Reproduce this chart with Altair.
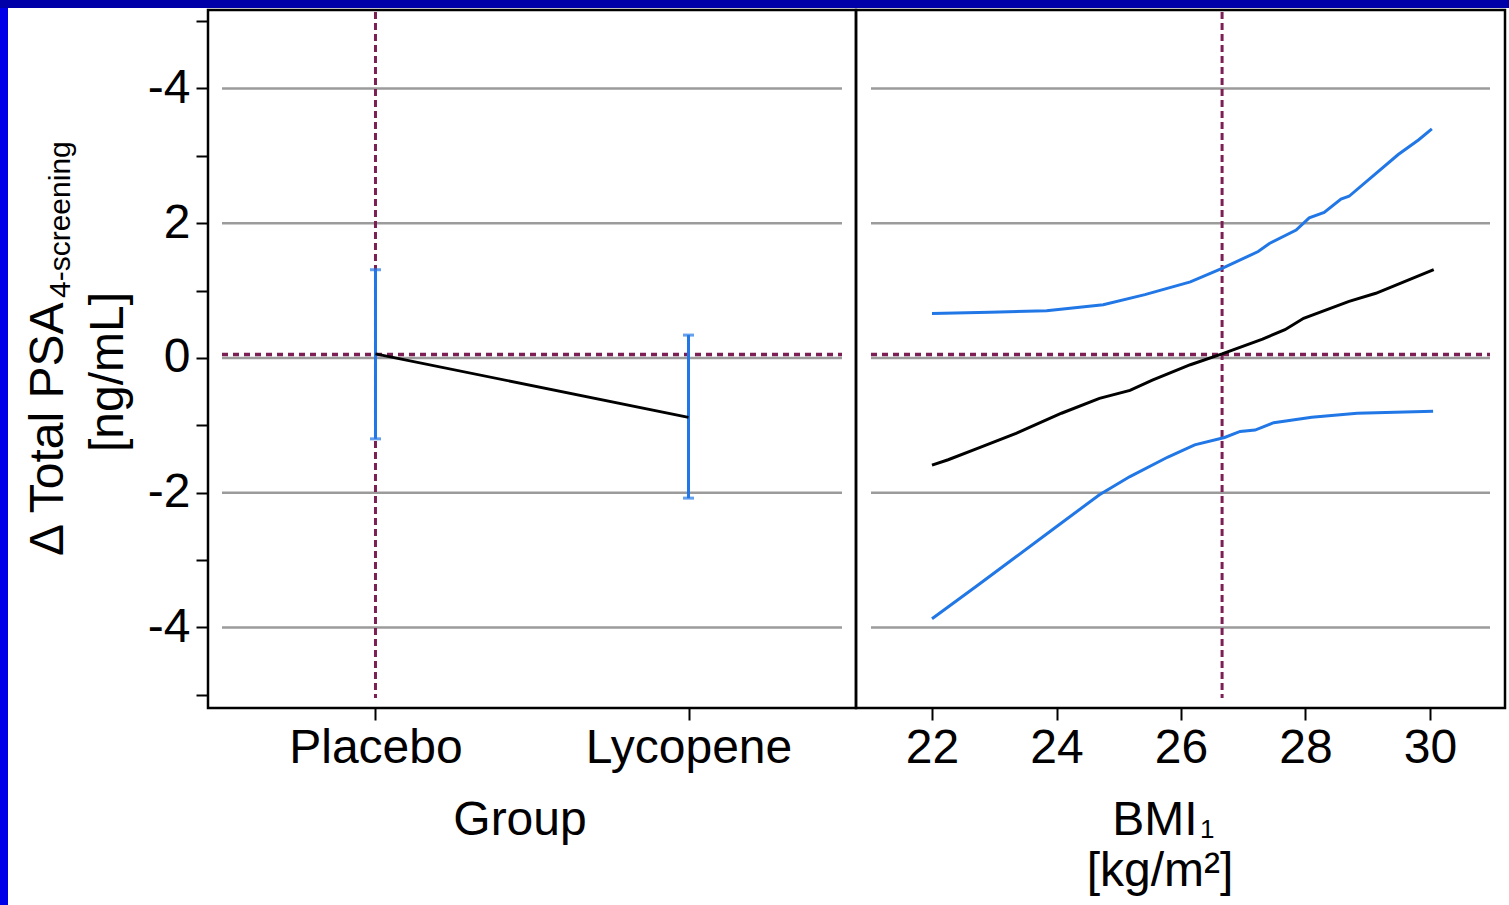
import altair as alt
import pandas as pd

# ---------------- data ----------------
groups = ["Placebo", "Lycopene"]
group_mean = [0.06, -0.88]
group_low = [-1.20, -2.08]
group_high = [1.31, 0.34]

mid_bmi = [22.0, 22.26, 22.68, 23.35, 24.08, 24.69, 25.18, 25.54, 26.15, 26.66, 27.31, 27.67, 27.97, 28.70, 29.13, 30.06]
mid_val = [-1.59, -1.51, -1.36, -1.12, -0.82, -0.60, -0.48, -0.33, -0.10, 0.06, 0.28, 0.42, 0.59, 0.84, 0.96, 1.31]

up_bmi = [22.0, 22.93, 23.84, 24.75, 25.42, 26.15, 26.66, 27.24, 27.42, 27.85, 28.06, 28.30, 28.57, 28.70, 29.49, 29.82, 30.03]
up_val = [0.66, 0.68, 0.70, 0.79, 0.94, 1.13, 1.33, 1.58, 1.70, 1.90, 2.08, 2.16, 2.36, 2.40, 3.02, 3.24, 3.40]

lo_bmi = [22.0, 22.74, 23.35, 23.96, 24.69, 25.18, 25.79, 26.22, 26.70, 26.95, 27.19, 27.49, 28.10, 28.83, 30.05]
lo_val = [-3.87, -3.37, -2.95, -2.53, -2.03, -1.76, -1.47, -1.29, -1.18, -1.09, -1.07, -0.96, -0.88, -0.82, -0.79]

ref_val = 0.05
ref_bmi = 26.66
grid_vals = [-4, -2, 0, 2, 4]
y_ticks = [-5, -4, -3, -2, -1, 0, 1, 2, 3, 4, 5]
bmi_ticks = [22, 24, 26, 28, 30]

# ---------------- style ----------------
W1, W2, H = 648, 649, 698
BLUE = "#2277e6"
MAROON = "#7b1f55"
GRID = "#9b9b9b"
FONT = "Liberation Sans"
FS = 48

yscale = alt.Scale(domain=[-5.195, 5.165], nice=False, zero=False)
yaxis = alt.Axis(
    values=y_ticks, labelExpr="datum.value == 4 ? '-4' : (datum.value % 2 == 0 ? '' + datum.value : '')",
    title=None, grid=False, domain=False, tickSize=12, tickWidth=2, tickColor="black",
    labelFont=FONT, labelFontSize=FS, labelColor="black", labelPadding=6, labelOverlap=False,
    labelLimit=0,
)

df_g = pd.DataFrame({"group": groups, "mean": group_mean, "low": group_low, "high": group_high})
df_grid = pd.DataFrame({"v": grid_vals})
df_ref = pd.DataFrame({"v": [ref_val]})
df_one = pd.DataFrame({"a": [0]})

xscale_g = alt.Scale(domain=groups, type="point", padding=0.535)
xaxis_g = alt.Axis(title=None, grid=False, domain=False, tickSize=12, tickWidth=2, tickColor="black",
                   labelFont=FONT, labelFontSize=FS, labelColor="black", labelAngle=0, labelPadding=4,
                   labelLimit=0)
Xg = alt.X("group:N", scale=xscale_g, axis=xaxis_g, sort=groups)


def text(t, x, y, size=FS, angle=0, align="center"):
    return alt.Chart(pd.DataFrame({"t": [t]})).mark_text(
        font=FONT, fontSize=size, color="black", angle=angle, align=align, baseline="alphabetic"
    ).encode(x=alt.value(x), y=alt.value(y), text="t:N")


def strip(x, x2, y, y2, color):
    return alt.Chart(df_one).mark_rect(color=color).encode(
        x=alt.value(x), x2=alt.value(x2), y=alt.value(y), y2=alt.value(y2))


DASH_H = [6, 5]
DASH_V = [7, 4]

# ---------------- left panel ----------------
grid_l = alt.Chart(df_grid).mark_rule(color=GRID, strokeWidth=2.5).encode(
    y=alt.Y("v:Q", scale=yscale, axis=yaxis), x=alt.value(14), x2=alt.value(W1 - 14))
href_l = alt.Chart(df_ref).mark_rule(color=MAROON, strokeWidth=3.5, strokeDash=DASH_H).encode(
    y=alt.Y("v:Q", scale=yscale, axis=yaxis), x=alt.value(14), x2=alt.value(W1 - 14))
vref_l = alt.Chart(pd.DataFrame({"group": ["Placebo"]})).mark_rule(
    color=MAROON, strokeWidth=3, strokeDash=DASH_V).encode(x=Xg, y=alt.value(2), y2=alt.value(H - 10))
err = alt.Chart(df_g).mark_rule(color=BLUE, strokeWidth=3).encode(
    x=Xg, y=alt.Y("low:Q", scale=yscale, axis=yaxis), y2="high:Q")
cap_lo = alt.Chart(df_g).mark_tick(color=BLUE, size=11, thickness=3).encode(
    x=Xg, y=alt.Y("low:Q", scale=yscale, axis=yaxis))
cap_hi = alt.Chart(df_g).mark_tick(color=BLUE, size=11, thickness=3).encode(
    x=Xg, y=alt.Y("high:Q", scale=yscale, axis=yaxis))
mean_line = alt.Chart(df_g).mark_line(color="black", strokeWidth=2.8).encode(
    x=Xg, y=alt.Y("mean:Q", scale=yscale, axis=yaxis))

left = alt.layer(
    grid_l, href_l, vref_l, err, cap_lo, cap_hi, mean_line,
    text("Δ Total PSA", -145, 546, angle=270, align="left"),
    text("4-screening", -138, 288, size=30, angle=270, align="left"),
    text("[ng/mL]", -85, 362, angle=270, align="center"),
    text("Group", 312, 825),
    strip(-208, -200, -10, 895, "#0000e8"),
    strip(-208, W1, -10, -2, "#0000a8"),
).properties(width=W1, height=H)

# ---------------- right panel ----------------
xscale_b = alt.Scale(domain=[20.779, 31.205], nice=False, zero=False)
xaxis_b = alt.Axis(values=bmi_ticks, format="d", title=None, grid=False, domain=False, tickSize=12,
                   tickWidth=2, tickColor="black", labelFont=FONT, labelFontSize=FS, labelColor="black",
                   labelPadding=4, labelFlush=False)
yaxis_r = alt.Axis(title=None, grid=False, domain=False, ticks=False, labels=False)

df_curves = pd.concat([
    pd.DataFrame({"bmi": up_bmi, "val": up_val, "s": "upper"}),
    pd.DataFrame({"bmi": lo_bmi, "val": lo_val, "s": "lower"}),
    pd.DataFrame({"bmi": mid_bmi, "val": mid_val, "s": "mid"}),
])

grid_r = alt.Chart(df_grid).mark_rule(color=GRID, strokeWidth=2.5).encode(
    y=alt.Y("v:Q", scale=yscale, axis=yaxis_r), x=alt.value(15), x2=alt.value(W2 - 15))
href_r = alt.Chart(df_ref).mark_rule(color=MAROON, strokeWidth=3.5, strokeDash=DASH_H).encode(
    y=alt.Y("v:Q", scale=yscale, axis=yaxis_r), x=alt.value(15), x2=alt.value(W2 - 15))
vref_r = alt.Chart(pd.DataFrame({"b": [ref_bmi]})).mark_rule(
    color=MAROON, strokeWidth=3, strokeDash=DASH_V).encode(
    x=alt.X("b:Q", scale=xscale_b, axis=xaxis_b), y=alt.value(2), y2=alt.value(H - 10))
curves = alt.Chart(df_curves).mark_line(strokeWidth=3).encode(
    x=alt.X("bmi:Q", scale=xscale_b, axis=xaxis_b),
    y=alt.Y("val:Q", scale=yscale, axis=yaxis_r),
    detail="s:N",
    color=alt.Color("s:N", scale=alt.Scale(domain=["upper", "lower", "mid"],
                                          range=[BLUE, BLUE, "black"]), legend=None),
)

right = alt.layer(
    grid_r, href_r, vref_r, curves,
    text("BMI", 299, 825, align="center"),
    text("1", 344, 828, size=26, align="left"),
    text("[kg/m²]", 304, 876, align="center"),
    strip(0, W2 + 4, -10, -2, "#0000a8"),
).properties(width=W2, height=H)

chart = alt.hconcat(left, right, spacing=0, bounds="flush").configure_view(
    stroke="black", strokeWidth=2.5
).properties(
    background="white",
    autosize=alt.AutoSizeParams(type="none"),
    padding={"left": 208, "top": 10, "right": 1301, "bottom": 895},
)

chart.save("out.html", embed_options={"renderer": "svg", "actions": False})
